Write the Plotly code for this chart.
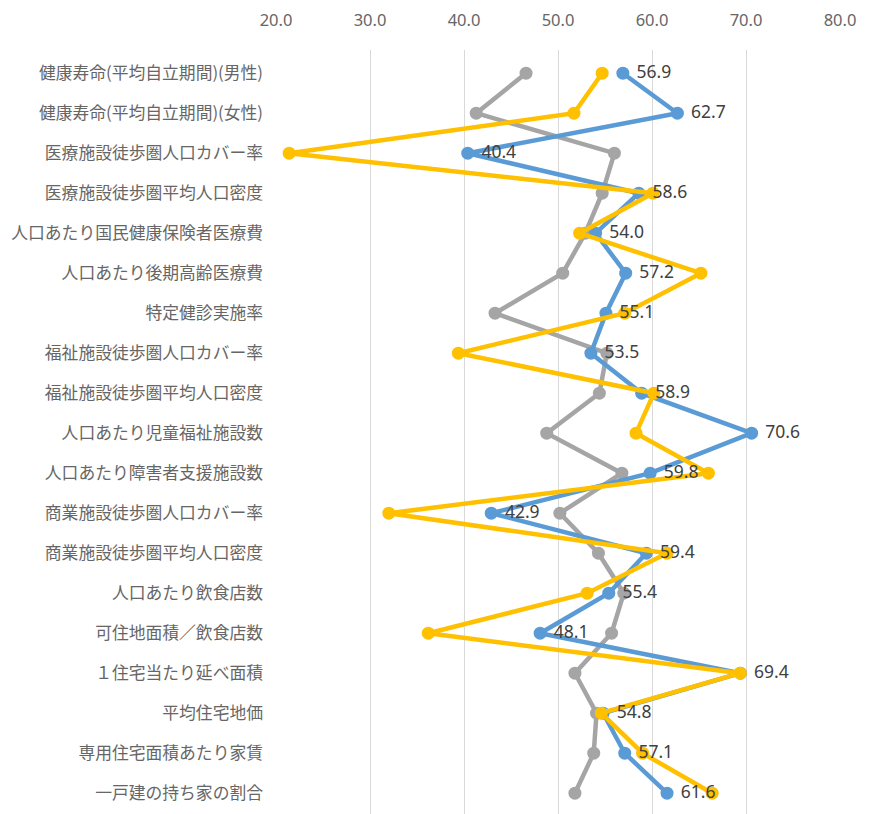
import plotly.graph_objects as go

categories = [
    "健康寿命(平均自立期間)(男性)",
    "健康寿命(平均自立期間)(女性)",
    "医療施設徒歩圏人口カバー率",
    "医療施設徒歩圏平均人口密度",
    "人口あたり国民健康保険者医療費",
    "人口あたり後期高齢医療費",
    "特定健診実施率",
    "福祉施設徒歩圏人口カバー率",
    "福祉施設徒歩圏平均人口密度",
    "人口あたり児童福祉施設数",
    "人口あたり障害者支援施設数",
    "商業施設徒歩圏人口カバー率",
    "商業施設徒歩圏平均人口密度",
    "人口あたり飲食店数",
    "可住地面積／飲食店数",
    "１住宅当たり延べ面積",
    "平均住宅地価",
    "専用住宅面積あたり家賃",
    "一戸建の持ち家の割合",
]

blue_values = [56.9, 62.7, 40.4, 58.6, 54.0, 57.2, 55.1, 53.5, 58.9, 70.6,
               59.8, 42.9, 59.4, 55.4, 48.1, 69.4, 54.8, 57.1, 61.6]
gray_values = [46.6, 41.3, 56.0, 54.7, 52.9, 50.5, 43.3, 55.2, 54.4, 48.8,
               56.8, 50.2, 54.3, 57.0, 55.7, 51.8, 54.1, 53.8, 51.8]
yellow_values = [54.7, 51.7, 21.4, 60.1, 52.3, 65.2, 57.1, 39.4, 60.2, 58.3,
                 66.0, 32.0, 61.6, 53.1, 36.2, 69.4, 54.6, 59.0, 66.4]

x_ticks = [20, 30, 40, 50, 60, 70, 80]
x_tick_labels = ["20.0", "30.0", "40.0", "50.0", "60.0", "70.0", "80.0"]

BLUE = "#5B9BD5"
GRAY = "#A5A5A5"
YELLOW = "#FFC000"

fig = go.Figure()
fig.add_trace(go.Scatter(
    x=gray_values, y=categories, mode="lines+markers",
    line=dict(color=GRAY, width=4.5), marker=dict(color=GRAY, size=13),
    showlegend=False, hoverinfo="skip"))
fig.add_trace(go.Scatter(
    x=blue_values, y=categories, mode="lines+markers",
    line=dict(color=BLUE, width=4.5), marker=dict(color=BLUE, size=13),
    showlegend=False, hoverinfo="skip"))
fig.add_trace(go.Scatter(
    x=yellow_values, y=categories, mode="lines+markers",
    line=dict(color=YELLOW, width=4.5), marker=dict(color=YELLOW, size=13),
    showlegend=False, hoverinfo="skip"))
# data labels for the blue series, drawn on top
fig.add_trace(go.Scatter(
    x=blue_values, y=categories, mode="text",
    text=["   " + f"{v:.1f}" for v in blue_values],
    textposition="middle right",
    textfont=dict(family="Noto Sans, Noto Sans CJK JP", size=17.5, color="#404040"),
    showlegend=False, hoverinfo="skip"))

fig.update_layout(
    width=869, height=814,
    margin=dict(l=276, r=29, t=50, b=0),
    paper_bgcolor="white", plot_bgcolor="white",
    font=dict(family="Noto Sans CJK JP, Noto Sans", color="#595959"),
)
fig.update_xaxes(
    side="top", range=[20, 80], tickvals=x_ticks, ticktext=x_tick_labels,
    showgrid=True, gridcolor="#D9D9D9", gridwidth=1, zeroline=False,
    showline=False, ticks="", ticklabelstandoff=20,
    tickfont=dict(family="Noto Sans", size=16.5, color="#666666"),
)
fig.update_yaxes(
    type="category", categoryorder="array", categoryarray=categories,
    range=[18.52, -0.58], showgrid=False, zeroline=False,
    showline=False, ticks="", ticklabelstandoff=12,
    tickfont=dict(family="Noto Sans CJK JP", size=16.8, color="#666666"),
)

fig.write_html("out.html")
